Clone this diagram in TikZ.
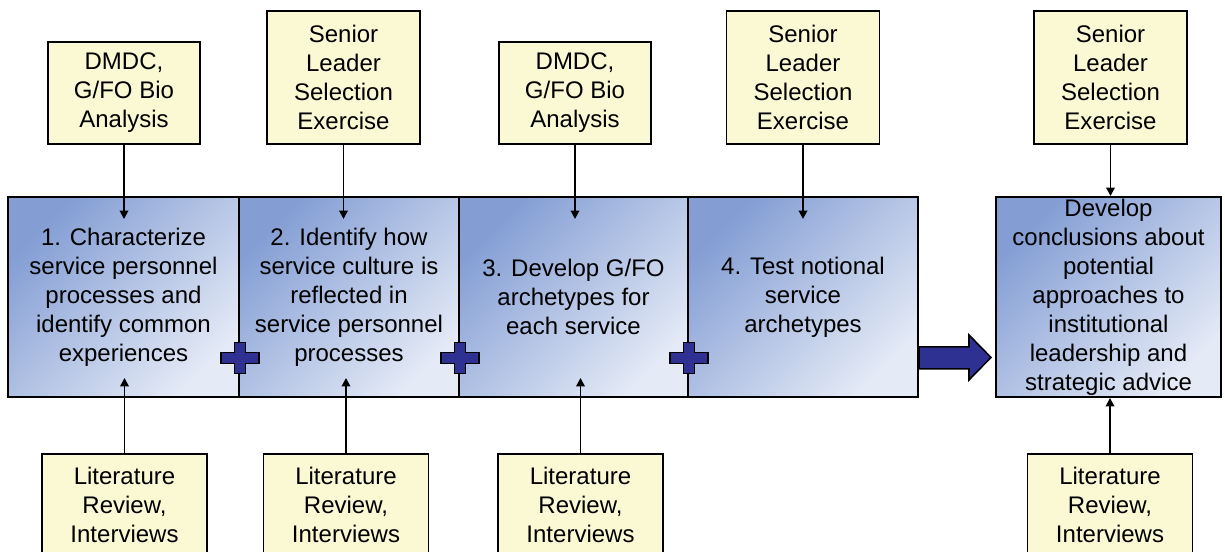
\documentclass[tikz,border=0pt]{standalone}
\usepackage{fontspec}
\setmainfont{Liberation Sans}
\usetikzlibrary{arrows.meta,calc}
\definecolor{srcyellow}{RGB}{250,249,212}
\definecolor{stepdark}{RGB}{132,158,212}
\definecolor{steplight}{RGB}{228,234,246}
\definecolor{plusblue}{RGB}{46,49,146}
\tikzset{
  srcbox/.style={draw, line width=1.1pt, fill=srcyellow, inner sep=0pt, align=center, minimum width=3.04cm},
  litbox/.style={srcbox, minimum width=3.3cm, minimum height=2.04cm},
  stepbox/.style={draw, line width=1.1pt, top color=stepdark, bottom color=steplight, shading angle=45, inner sep=0pt, align=center, minimum height=4cm},
  feed/.style={line width=1.1pt, -{Triangle[length=0.17cm,width=0.17cm]}},
  plusfill/.style={draw, line width=0.9pt, fill=plusblue, line join=miter},
}
\def\plusmark(#1){\draw[plusfill, shift={($(#1)+(0,0.8)$)}] (-0.38,-0.11) -- (-0.11,-0.11) -- (-0.11,-0.31) -- (0.11,-0.31) -- (0.11,-0.11) -- (0.38,-0.11) -- (0.38,0.11) -- (0.11,0.11) -- (0.11,0.31) -- (-0.11,0.31) -- (-0.11,0.11) -- (-0.38,0.11) -- cycle;}

\begin{document}
\begin{tikzpicture}[font=\fontsize{13.66}{16.5}\selectfont]
	\useasboundingbox (0,0) rectangle (24.5,11.04);
	%%%%% sources on top %%%%%
	\node[srcbox, minimum height=2.04cm] (src1) at (2.48, 9.18) {DMDC,\\G/FO Bio\\Analysis};
	\node[srcbox, minimum width=3.06cm, minimum height=2.66cm] (src2) at (6.87, 9.49) {Senior\\Leader\\Selection\\Exercise};
	\node[srcbox, minimum height=2.04cm] (src3) at (11.5, 9.18) {DMDC,\\G/FO Bio\\Analysis};
	\node[srcbox, minimum width=3.06cm, minimum height=2.66cm] (src4) at (16.06, 9.49) {Senior\\Leader\\Selection\\Exercise};
	\node[srcbox, minimum width=3.06cm, minimum height=2.66cm] (src5) at (22.21, 9.49) {Senior\\Leader\\Selection\\Exercise};
	
	%%%%% steps %%%%%
	\node[stepbox, minimum width=4.62cm] (step1) at (2.47, 5.1) {1. Characterize\\service personnel\\processes and\\identify common\\experiences};
	\node[stepbox, minimum width=4.40cm] (step2) at (6.98, 5.1) {2. Identify how\\service culture is\\reflected in\\service personnel\\processes};
	\node[stepbox, minimum width=4.58cm] (step3) at (11.47, 5.1) {3. Develop G/FO\\archetypes for\\each service};
	\node[stepbox, minimum width=4.60cm] (step4) at (16.06, 5.1) {4. Test notional\\service\\archetypes};
	\node[stepbox, minimum width=4.50cm] (final) at (22.17, 5.1) {Develop\\conclusions about\\potential\\approaches to\\institutional\\leadership and\\strategic advice};
	
	%%%%% sources below %%%%%
	\node[litbox] (lit1) at (2.49, 0.94) {Literature\\Review,\\Interviews};
	\node[litbox] (lit2) at (6.92, 0.94) {Literature\\Review,\\Interviews};
	\node[litbox] (lit3) at (11.61, 0.94) {Literature\\Review,\\Interviews};
	\node[litbox] (lit4) at (22.2, 0.94) {Literature\\Review,\\Interviews};
	
	%%%%% feeds %%%%%
	\draw[feed, shorten >=-0.46cm] (src1) -- (src1 |- step1.north);
	\draw[feed, shorten >=-0.46cm] (src2) -- (src2 |- step2.north);
	\draw[feed, shorten >=-0.46cm] (src3) -- (src3 |- step3.north);
	\draw[feed, shorten >=-0.46cm] (src4) -- (src4 |- step4.north);
	\draw[feed] (src5) -- (src5 |- final.north);
	\draw[feed, shorten >=-0.4cm] (lit1) -- (lit1 |- step1.south);
	\draw[feed, shorten >=-0.4cm] (lit2) -- (lit2 |- step2.south);
	\draw[feed, shorten >=-0.4cm] (lit3) -- (lit3 |- step3.south);
	\draw[feed] (lit4) -- (lit4 |- final.south);
	
	%%%%% plus signs and arrow %%%%%
	\plusmark(step1.south east)
	\plusmark(step2.south east)
	\plusmark(step3.south east)
	\draw[plusfill] ($(step4.south east)+(0,0.58)$) -- ++(1.0,0) -- ++(0,-0.22) -- ++(0.44,0.45) -- ++(-0.44,0.45) -- ++(0,-0.24) -- ++(-1.0,0) -- cycle;
\end{tikzpicture}
\end{document}
